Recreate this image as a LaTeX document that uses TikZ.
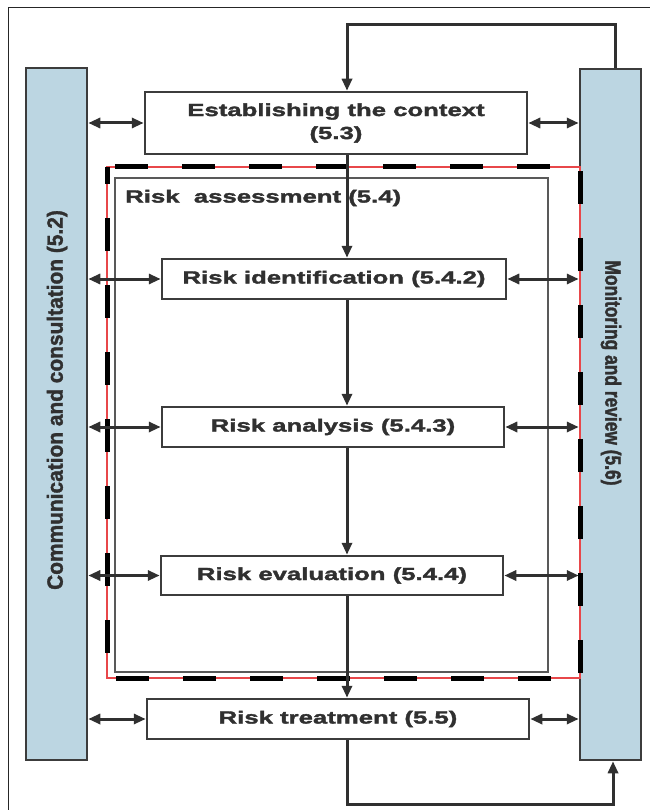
\documentclass[tikz,border=0pt]{standalone}
\usepackage{fontspec}
\usetikzlibrary{arrows.meta}

\newfontfamily\boxfont[FakeStretch=1.47, BoldFeatures={FakeBold=2}]{Liberation Sans}
\newfontfamily\leftfont[FakeStretch=0.95, BoldFeatures={FakeBold=1.5}]{Liberation Sans}
\newfontfamily\rightfont[FakeStretch=0.79, BoldFeatures={FakeBold=1.5}]{Liberation Sans}

\definecolor{ink}{HTML}{303030}
\definecolor{edge}{HTML}{3C3C3C}
\definecolor{barblue}{HTML}{BCD6E2}
\definecolor{dashred}{HTML}{E8474A}

\tikzset{
	stage/.style={draw=edge, line width=2.5pt, fill=white, text=ink, inner sep=0pt, align=center,
		font=\boxfont\bfseries\fontsize{17.5}{23}\selectfont},
	bar/.style={draw=edge, line width=2.5pt, fill=barblue, inner sep=0pt},
	barlabel/.style={text=ink, inner sep=0pt},
	link/.style={draw=ink, line width=3pt, -{Triangle[length=12pt,width=10pt]}},
	duplex/.style={link, {Triangle[length=12pt,width=10pt]}-{Triangle[length=12pt,width=10pt]}},
}

\begin{document}
\begin{tikzpicture}[x=1pt, y=-1pt]
	\useasboundingbox (0,0) rectangle (650,810);
	% frame, cut off at the right and bottom
	\draw[line width=1pt, black!85] (8,810) -- (8,8) -- (650,8);

	% side bars
	\node[bar, minimum width=61pt, minimum height=692pt] (consult) at (56.5,414) {};
	\node[barlabel, rotate=90, font=\leftfont\bfseries\fontsize{22}{26}\selectfont] (consulttext) at (57,400) {Communication and consultation (5.2)};
	\node[bar, minimum width=61pt, minimum height=691pt] (monitor) at (610.5,414.5) {};
	\node[barlabel, rotate=-90, font=\rightfont\bfseries\fontsize{22}{26}\selectfont] (monitortext) at (611,373) {Monitoring and review (5.6)};

	% risk assessment frames
	\draw[dashred, line width=1.5pt] (107,167) rectangle (580,678);
	\draw[black, line width=5pt, dash pattern=on 33pt off 34pt, dash phase=16pt] (107,167) rectangle (580,678);
	\draw[edge!85, line width=2pt] (115,178) rectangle (548,672);
	\node[stage, draw=none, fill=none, anchor=west] (assess) at (124,198) {Risk\ \ assessment (5.4)};

	% process steps
	\node[stage, minimum width=382pt, minimum height=62pt] (context) at (336,123) {Establishing the context\\(5.3)};
	\node[stage, minimum width=344pt, minimum height=40pt] (identify) at (334,279) {Risk identification (5.4.2)};
	\node[stage, minimum width=342pt, minimum height=40pt] (analyse) at (333,427) {Risk analysis (5.4.3)};
	\node[stage, minimum width=342pt, minimum height=39pt] (evaluate) at (332,575.5) {Risk evaluation (5.4.4)};
	\node[stage, minimum width=382pt, minimum height=40pt] (treat) at (338,719) {Risk treatment (5.5)};

	% main flow
	\coordinate (spine) at (347,0);
	\draw[link] (spine |- context.south) -- (spine |- identify.north);
	\draw[link] (spine |- identify.south) -- (spine |- analyse.north);
	\draw[link] (spine |- analyse.south) -- (spine |- evaluate.north);
	\draw[link] (spine |- evaluate.south) -- (spine |- treat.north);

	% feedback loops
	\coordinate (topturn) at (615,25);
	\coordinate (bottomturn) at (613,804);
	\draw[link] (monitor.north -| topturn) -- (topturn) -- (spine |- topturn) -- (spine |- context.north);
	\draw[link] (spine |- treat.south) -- (spine |- bottomturn) -- (bottomturn) -- (monitor.south -| bottomturn);

	% links to the side bars
	\foreach \step in {context, identify, analyse, evaluate, treat} {
		\draw[duplex] (consult.east |- \step.west) -- (\step.west);
		\draw[duplex] (\step.east) -- (monitor.west |- \step.east);
	}
\end{tikzpicture}
\end{document}
